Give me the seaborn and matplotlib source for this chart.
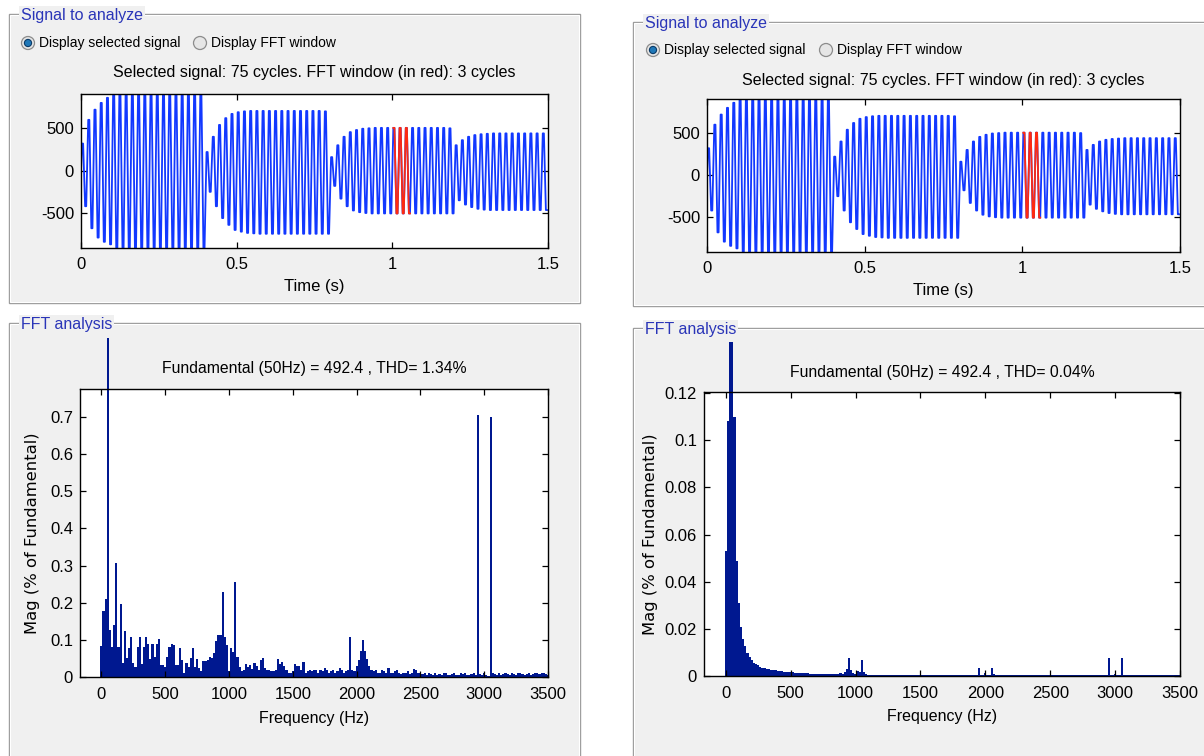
import numpy as np
import pandas as pd
import matplotlib
matplotlib.use("Agg")
import matplotlib.pyplot as plt
import seaborn as sns
from matplotlib.patches import Rectangle, Ellipse
from matplotlib.transforms import Bbox, TransformedBbox

# ---------------- data ----------------
F0 = 50.0            # fundamental (Hz)
N_CYCLES = 75        # cycles in selected signal
FFT_START_CYCLE = 50  # FFT window start (t = 1.0 s)
FFT_CYCLES = 3
DF = F0 / FFT_CYCLES  # frequency resolution 16.67 Hz

# per-cycle positive / negative peaks of the selected signal
pos_peaks = [320, 600, 720, 800, 860, 905, 905, 905, 905, 905, 905, 905, 905, 905, 905, 905, 905, 905, 905, 905,
             220, 400, 540, 620, 670, 690, 700, 705, 705, 705, 705, 705, 705, 705, 705, 705, 705, 705, 705, 700,
             160, 300, 400, 455, 480, 495, 500, 505, 505, 505, 505, 505, 505, 505, 505, 505, 505, 505, 505, 500,
             300, 360, 400, 420, 430, 435, 440, 440, 440, 440, 440, 440, 440, 440, 440]
neg_peaks = [-420, -680, -790, -840, -870, -913, -913, -913, -913, -913, -913, -913, -913, -913, -913, -913, -913, -913, -913, -913,
             -250, -420, -560, -640, -700, -720, -735, -740, -745, -745, -745, -745, -745, -745, -745, -745, -745, -745, -745, -745,
             -180, -330, -420, -470, -490, -500, -505, -505, -505, -505, -505, -505, -505, -505, -505, -505, -505, -505, -505, -505,
             -350, -400, -430, -450, -460, -465, -465, -465, -465, -465, -465, -465, -465, -465, -465]

# FFT magnitudes (% of fundamental), one value per 16.67 Hz bin, 0..3500 Hz
mag_left = (
    [0.084, 0.178, 0.211, 100, 0.126, 0.08, 0.14, 0.308, 0.08, 0.197,
     0.037, 0.124, 0.05, 0.077, 0.107, 0.037, 0.028, 0.08, 0.107, 0.036,
     0.08, 0.107, 0.089, 0.048, 0.089, 0.053, 0.09, 0.102, 0.031, 0.031,
     0.028, 0.053, 0.082, 0.09, 0.086, 0.033, 0.031, 0.077, 0.046, 0.011,
     0.039, 0.028, 0.052, 0.077, 0.028, 0.048, 0.024, 0.015, 0.042, 0.042,
     0.046, 0.055, 0.05, 0.064, 0.098, 0.113, 0.113]
    + [0.23, 0.107, 0.086, 0.015, 0.077, 0.068, 0.255]
    + [0.053, 0.028, 0.015, 0.02, 0.035, 0.028, 0.033, 0.022, 0.039, 0.03,
       0.02, 0.045, 0.05, 0.025, 0.018, 0.02, 0.015]
    + [0.015, 0.02, 0.048, 0.035, 0.04, 0.03, 0.02, 0.012, 0.01, 0.015,
       0.036, 0.03, 0.03, 0.02, 0.04, 0.012, 0.015, 0.018, 0.015, 0.02]
    + [0.018, 0.012, 0.02, 0.015, 0.025, 0.018, 0.01, 0.015, 0.02, 0.012,
       0.015, 0.025, 0.02, 0.01, 0.015, 0.02]
    + [0.109, 0.02, 0.015, 0.03, 0.045, 0.07, 0.1, 0.07, 0.048, 0.03, 0.02]
    + [0.015, 0.02, 0.012, 0.01, 0.02, 0.015, 0.01, 0.025, 0.012, 0.01,
       0.015, 0.02, 0.01, 0.008, 0.012, 0.01, 0.015, 0.008, 0.01, 0.022,
       0.018, 0.012, 0.01]
    + [0.008, 0.01, 0.005, 0.012, 0.008, 0.005, 0.01, 0.006, 0.008, 0.005,
       0.01, 0.012, 0.006, 0.005, 0.008, 0.01, 0.006, 0.005, 0.012, 0.008,
       0.01, 0.006, 0.005, 0.008, 0.012, 0.006]
    + [0.705, 0.008, 0.005, 0.01, 0.006, 0.004, 0.7]
    + [0.01, 0.008, 0.005, 0.01, 0.006, 0.008, 0.012, 0.008, 0.005, 0.01,
       0.008, 0.006, 0.01, 0.012, 0.008, 0.005, 0.008, 0.01, 0.006, 0.008,
       0.01, 0.012, 0.008, 0.01, 0.012, 0.008, 0.006]
)

mag_right = (
    [0.053, 0.108, 0.3, 100, 0.11, 0.049, 0.031, 0.021, 0.0155, 0.0127,
     0.0099, 0.0082, 0.0068, 0.0056, 0.0049, 0.0045, 0.004, 0.0035]
    + [0.0032, 0.003, 0.0028, 0.0026, 0.0025, 0.0024, 0.0022, 0.0021, 0.002, 0.0019, 0.0018, 0.0017]
    + [0.0016, 0.0015, 0.0014, 0.0013, 0.0013, 0.0012, 0.0012, 0.0011, 0.0011, 0.001,
       0.001, 0.001, 0.0009, 0.0009, 0.0009, 0.0008, 0.0008, 0.0008, 0.0008, 0.0007,
       0.0007, 0.0007, 0.0008, 0.0012, 0.0009]
    + [0.0015, 0.003, 0.0077, 0.0025, 0.0012, 0.0008, 0.002, 0.0018, 0.0067, 0.0015, 0.001]
    + [0.0005, 0.0004, 0.0004, 0.0005, 0.0004, 0.0004, 0.0004, 0.0005, 0.0004, 0.0004,
       0.0004, 0.0004, 0.0005, 0.0004, 0.0004, 0.0004, 0.0004, 0.0004, 0.0005, 0.0004,
       0.0004, 0.0004, 0.0004, 0.0004, 0.0004, 0.0004, 0.0005, 0.0004, 0.0004, 0.0004,
       0.0004, 0.0004, 0.0004, 0.0004, 0.0004, 0.0005, 0.0004, 0.0004, 0.0004, 0.0004,
       0.0004, 0.0004, 0.0004, 0.0004, 0.0004, 0.0004, 0.0004, 0.0004, 0.0004, 0.0004]
    + [0.0005, 0.0035, 0.0006, 0.0004, 0.0012, 0.0005, 0.0004, 0.0035, 0.0008]
    + [0.0004] * 52
    + [0.0077, 0.0005, 0.0004, 0.001, 0.0004, 0.0004, 0.0077]
    + [0.0004] * 27
)

x_ticks_time = [0, 0.5, 1, 1.5]
x_ticklabels_time = ["0", "0.5", "1", "1.5"]
y_ticks_sig = [-500, 0, 500]
x_ticks_freq = [0, 500, 1000, 1500, 2000, 2500, 3000, 3500]
y_ticks_left = [0, 0.1, 0.2, 0.3, 0.4, 0.5, 0.6, 0.7]
y_ticklabels_left = ["0", "0.1", "0.2", "0.3", "0.4", "0.5", "0.6", "0.7"]
y_ticks_right = [0, 0.02, 0.04, 0.06, 0.08, 0.1, 0.12]
y_ticklabels_right = ["0", "0.02", "0.04", "0.06", "0.08", "0.1", "0.12"]

thd_left = "1.34%"
thd_right = "0.04%"
fund_mag = "492.4"

# ---------------- style ----------------
W, H = 1204, 756
FONT = ["Liberation Sans", "DejaVu Sans"]
plt.rcParams["font.family"] = FONT
PANEL_BG = "#f0f0f0"
BLUE_TXT = "#2a35b8"
SIG_BLUE = "#1238ff"
FFT_RED = "#ff2a10"
NAVY = "#001890"
TICK_FS = 12
HDR_FS = 11.5

fig = plt.figure(figsize=(W / 100, H / 100), dpi=100)
fig.patch.set_facecolor("white")


def fx(x):
    return x / W


def fy(y):
    return 1 - y / H


def add_panel(l, t, r, b, title):
    fig.add_artist(Rectangle((fx(l), fy(b)), fx(r - l), (b - t) / H, transform=fig.transFigure,
                             facecolor=PANEL_BG, edgecolor="#9a9a9a", lw=1.0, zorder=0))
    fig.add_artist(Rectangle((fx(l + 1), fy(b - 1)), fx(r - l - 2), (b - t - 2) / H, transform=fig.transFigure,
                             facecolor="none", edgecolor="white", lw=0.8, zorder=0))
    fig.text(fx(l + 12), fy(t + 1.5), title, color=BLUE_TXT, fontsize=11.5, ha="left", va="center",
             bbox=dict(boxstyle="square,pad=0.12", facecolor=PANEL_BG, edgecolor="none"), zorder=1)


def radio(cx, cy, label, selected):
    r = 6.5
    fig.add_artist(Ellipse((fx(cx), fy(cy)), 2 * r / W, 2 * r / H, transform=fig.transFigure,
                           facecolor="#e6e6e6", edgecolor="#8c8c8c", lw=0.9, zorder=2))
    if selected:
        ri = 3.6
        fig.add_artist(Ellipse((fx(cx), fy(cy)), 2 * ri / W, 2 * ri / H, transform=fig.transFigure,
                               facecolor="#1f78b8", edgecolor="#0b3a66", lw=0.8, zorder=3))
    fig.text(fx(cx + 11), fy(cy), label, fontsize=10, ha="left", va="center", color="black")


def ax_rect(l, t, r, b):
    return [fx(l), fy(b), (r - l) / W, (b - t) / H]


def style_axes(ax):
    ax.set_facecolor("white")
    for s in ax.spines.values():
        s.set_color("black")
        s.set_linewidth(1.0)
        s.set_zorder(5)
    ax.tick_params(direction="in", length=4, width=0.9, top=True, right=True,
                   labelsize=TICK_FS, colors="black", pad=5)
    ax.grid(False)


# panels
add_panel(9, 14, 580, 303, "Signal to analyze")
add_panel(633, 22, 1230, 306, "Signal to analyze")
add_panel(9, 323, 580, 790, "FFT analysis")
add_panel(633, 328, 1230, 790, "FFT analysis")

# radio rows
radio(28, 43, "Display selected signal", True)
radio(200, 43, "Display FFT window", False)
radio(653, 50, "Display selected signal", True)
radio(826, 50, "Display FFT window", False)

# signal dataframe: each half-cycle peak held briefly (sampled-signal look)
k = np.arange(N_CYCLES)
t_cols = [(k + f) / F0 for f in (0.16, 0.34, 0.66, 0.84)]
v_cols = [pos_peaks, pos_peaks, neg_peaks, neg_peaks]
sig = pd.DataFrame({
    "t": np.concatenate([[0.0], np.ravel(np.column_stack(t_cols))]),
    "v": np.concatenate([[0.0], np.ravel(np.column_stack(v_cols))]),
})
t0 = FFT_START_CYCLE / F0
t1 = (FFT_START_CYCLE + FFT_CYCLES) / F0
win = sig[(sig.t >= t0) & (sig.t <= t1)]

header = "Selected signal: 75 cycles. FFT window (in red): 3 cycles"


def signal_axes(rect, hdr_y_px, axes_top_px, axes_h_px):
    ax = fig.add_axes(rect)
    sns.lineplot(data=sig, x="t", y="v", ax=ax, color=SIG_BLUE, lw=1.3, sort=False, estimator=None)
    sns.lineplot(data=win, x="t", y="v", ax=ax, color=FFT_RED, lw=1.3, sort=False, estimator=None)
    ax.set_xlim(0, 1.5)
    ax.set_ylim(-913, 905)
    ax.set_xticks(x_ticks_time)
    ax.set_xticklabels(x_ticklabels_time)
    ax.set_yticks(y_ticks_sig)
    ax.set_yticklabels([str(v) for v in y_ticks_sig])
    style_axes(ax)
    ax.tick_params(axis="x", pad=6.5)
    ax.set_ylabel("")
    ax.set_xlabel("Time (s)", fontsize=12, va="center")
    ax.xaxis.set_label_coords(0.5, -39 / axes_h_px)
    ax.set_title(header, fontsize=HDR_FS, y=1 + (axes_top_px - hdr_y_px) / axes_h_px, va="center", pad=0)
    return ax


signal_axes(ax_rect(81, 94, 548, 248), 73, 94, 154)
signal_axes(ax_rect(707, 99, 1180, 252), 80, 99, 153)


def fft_axes(rect, mags, ytop, yticks, yticklabels, thd, title_y_px, axes_top_px, axes_h_px, axes_w_px,
             clip_y_px, ylabel_dx):
    ax = fig.add_axes(rect)
    freqs = np.arange(len(mags)) * DF
    spec = pd.DataFrame({"f": freqs, "m": np.asarray(mags, dtype=float)})
    sns.histplot(data=spec, x="f", weights="m", binwidth=DF,
                 binrange=(-DF / 2, freqs[-1] + DF / 2), ax=ax, color=NAVY, alpha=1.0,
                 linewidth=0, element="bars", stat="count")
    ax.set_xlim(-168, 3500)
    ax.set_ylim(0, ytop)
    clipbox = TransformedBbox(Bbox([[0, 0], [1, fy(clip_y_px)]]), fig.transFigure)
    for p in ax.patches:
        if p.get_height() > ytop:
            p.set_clip_box(clipbox)
    ax.set_xticks(x_ticks_freq)
    ax.set_xticklabels([str(v) for v in x_ticks_freq])
    ax.set_yticks(yticks)
    ax.set_yticklabels(yticklabels)
    style_axes(ax)
    ax.tick_params(axis="x", pad=7)
    ax.set_xlabel("Frequency (Hz)", fontsize=11.5, va="center")
    ax.xaxis.set_label_coords(0.5, -41 / axes_h_px)
    ax.set_ylabel("Mag (% of Fundamental)", fontsize=11.8, va="center", family=["DejaVu Sans"] + FONT)
    ax.yaxis.set_label_coords(ylabel_dx / axes_w_px, 0.5)
    ax.set_title(f"Fundamental (50Hz) = {fund_mag} , THD= {thd}", fontsize=11.3,
                 y=1 + (axes_top_px - title_y_px) / axes_h_px, va="center", pad=0)
    return ax


fft_axes(ax_rect(80, 389, 548, 677), mag_left, 0.7755, y_ticks_left, y_ticklabels_left, thd_left,
         368, 389, 288, 468, 337.5, -47)
fft_axes(ax_rect(704, 392, 1180, 676), mag_right, 0.1205, y_ticks_right, y_ticklabels_right, thd_right,
         372, 392, 284, 476, 342, -54)

fig.savefig("out.png", dpi=100, facecolor="white")
